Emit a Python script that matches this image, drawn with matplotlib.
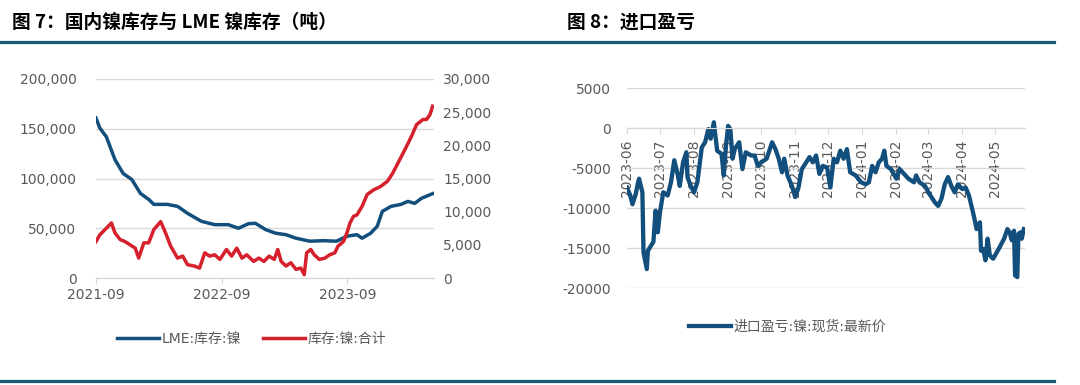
import matplotlib
matplotlib.use("Agg")
import matplotlib.pyplot as plt
import matplotlib.dates as mdates
from matplotlib.ticker import FuncFormatter, MultipleLocator
from matplotlib.lines import Line2D
import pandas as pd

plt.rcParams['font.family'] = ['DejaVu Sans', 'Noto Sans CJK SC']
plt.rcParams['axes.unicode_minus'] = False

# ---- 图7 data ----
lme_dates = ["2021-09-01", "2021-09-12", "2021-10-01", "2021-10-26", "2021-11-19", "2021-12-14",
             "2022-01-08", "2022-02-01", "2022-02-16", "2022-03-27", "2022-04-26", "2022-05-25",
             "2022-07-04", "2022-08-12", "2022-09-20", "2022-10-20", "2022-11-18", "2022-12-08",
             "2023-01-07", "2023-02-05", "2023-03-07", "2023-04-05", "2023-05-15", "2023-06-23",
             "2023-08-01", "2023-08-31", "2023-09-29", "2023-10-14", "2023-11-08", "2023-11-27",
             "2023-12-12", "2024-01-06", "2024-02-04", "2024-02-24", "2024-03-15", "2024-04-03",
             "2024-05-06"]
lme_stock = [160800, 150700, 142000, 119000, 105000, 99000,
             85000, 79000, 74000, 74000, 72000, 65000,
             57000, 53600, 53600, 50000, 54600, 55000,
             48600, 45000, 43500, 40000, 37000, 37500,
             37000, 42000, 43500, 40000, 45000, 52000,
             67000, 72000, 74000, 77000, 75000, 80000,
             84800]

cn_dates = ["2021-09-01", "2021-09-12", "2021-10-01", "2021-10-16", "2021-10-26", "2021-11-10",
            "2021-11-24", "2021-12-09", "2021-12-24", "2022-01-03", "2022-01-18", "2022-02-01",
            "2022-02-16", "2022-03-08", "2022-03-22", "2022-04-06", "2022-04-26", "2022-05-11",
            "2022-05-25", "2022-06-14", "2022-06-29", "2022-07-14", "2022-07-28", "2022-08-12",
            "2022-08-27", "2022-09-15", "2022-09-30", "2022-10-15", "2022-10-30", "2022-11-13",
            "2022-12-03", "2022-12-18", "2023-01-02", "2023-01-17", "2023-02-01", "2023-02-11",
            "2023-02-21", "2023-03-07", "2023-03-21", "2023-04-05", "2023-04-19", "2023-04-29",
            "2023-05-06", "2023-05-18", "2023-05-28", "2023-06-12", "2023-06-28", "2023-07-12",
            "2023-07-27", "2023-08-05", "2023-08-21", "2023-08-31", "2023-09-09", "2023-09-19",
            "2023-09-29", "2023-10-14", "2023-10-29", "2023-11-17", "2023-12-07", "2023-12-27",
            "2024-01-11", "2024-01-31", "2024-02-15", "2024-03-06", "2024-03-20", "2024-04-08",
            "2024-04-18", "2024-04-28", "2024-05-06"]
cn_stock = [5500, 6500, 7500, 8300, 6800, 5800,
            5500, 5000, 4500, 3000, 5300, 5300,
            7300, 8500, 6800, 4800, 3000, 3300,
            2000, 1800, 1500, 3800, 3300, 3500,
            2800, 4300, 3300, 4500, 3000, 3500,
            2500, 3000, 2500, 3300, 2800, 4300,
            2500, 1800, 2300, 1300, 1500, 500,
            3800, 4300, 3500, 2800, 3000, 3500,
            3800, 4800, 5500, 6800, 8300, 9300,
            9500, 10800, 12600, 13300, 13800, 14600,
            15800, 17800, 19300, 21400, 23100, 23900,
            23900, 24600, 25900]

# ---- 图8 data ----
pl_dates = ["2023-06-01", "2023-06-04", "2023-06-06", "2023-06-09", "2023-06-11", "2023-06-12",
            "2023-06-15", "2023-06-16", "2023-06-19", "2023-06-20", "2023-06-25", "2023-06-27",
            "2023-06-29", "2023-07-01", "2023-07-04", "2023-07-08", "2023-07-11", "2023-07-14",
            "2023-07-17", "2023-07-19", "2023-07-22", "2023-07-25", "2023-07-26", "2023-07-29",
            "2023-08-01", "2023-08-04", "2023-08-08", "2023-08-11", "2023-08-14", "2023-08-16",
            "2023-08-19", "2023-08-22", "2023-08-26", "2023-08-28", "2023-08-30", "2023-09-01",
            "2023-09-03", "2023-09-05", "2023-09-07", "2023-09-11", "2023-09-14", "2023-09-17",
            "2023-09-22", "2023-09-25", "2023-09-28", "2023-10-01", "2023-10-06", "2023-10-11",
            "2023-10-14", "2023-10-17", "2023-10-20", "2023-10-22", "2023-10-25", "2023-10-29",
            "2023-11-01", "2023-11-04", "2023-11-07", "2023-11-11", "2023-11-14", "2023-11-17",
            "2023-11-20", "2023-11-23", "2023-11-26", "2023-11-30", "2023-12-03", "2023-12-06",
            "2023-12-09", "2023-12-12", "2023-12-15", "2023-12-18", "2023-12-21", "2023-12-26",
            "2023-12-31", "2024-01-04", "2024-01-07", "2024-01-10", "2024-01-13", "2024-01-16",
            "2024-01-19", "2024-01-21", "2024-01-23", "2024-01-27", "2024-02-01", "2024-02-04",
            "2024-02-08", "2024-02-12", "2024-02-17", "2024-02-19", "2024-02-22", "2024-02-27",
            "2024-03-02", "2024-03-07", "2024-03-10", "2024-03-13", "2024-03-16", "2024-03-19",
            "2024-03-22", "2024-03-25", "2024-03-28", "2024-04-01", "2024-04-04", "2024-04-07",
            "2024-04-10", "2024-04-12", "2024-04-14", "2024-04-17", "2024-04-18", "2024-04-20",
            "2024-04-22", "2024-04-24", "2024-04-26", "2024-04-29", "2024-05-04", "2024-05-09",
            "2024-05-12", "2024-05-14", "2024-05-16", "2024-05-18", "2024-05-19", "2024-05-21",
            "2024-05-22", "2024-05-24", "2024-05-25", "2024-05-27"]
pl_value = [-7400, -8400, -9500, -8200, -6800, -6300,
            -8000, -15500, -17600, -15300, -14200, -10300,
            -13000, -10500, -8000, -8400, -6750, -4000,
            -5700, -7200, -4250, -3000, -6100, -7200,
            -8000, -6750, -2400, -1750, -100, -1300,
            750, -2800, -3200, -5900, -2200, 300,
            -100, -3800, -2600, -1750, -5100, -3000,
            -3400, -3400, -4700, -4250, -3800, -1750,
            -2600, -3800, -5500, -3800, -5900, -7200,
            -8600, -7400, -5100, -4250, -3600, -4250,
            -3400, -5700, -4700, -4900, -7400, -3800,
            -4250, -2800, -3800, -2600, -5500, -5900,
            -6750, -7000, -6750, -4700, -5500, -4250,
            -3800, -2800, -4700, -5100, -6300, -5100,
            -5700, -6300, -6750, -5900, -6750, -7200,
            -8200, -9250, -9700, -8800, -7000, -6100,
            -7200, -8000, -7000, -7600, -7400, -8400,
            -10100, -11300, -12600, -11750, -15300, -15100,
            -16500, -13800, -15900, -16300, -15100, -13800,
            -12600, -13000, -14000, -12800, -18400, -18600,
            -13200, -13000, -13800, -12600]

blue = '#134f7c'
red = '#d6202c'
grid_c = '#d9d9d9'
txt_c = '#595959'
rule_c = '#1d5a7a'
cjk = ['Noto Sans CJK SC', 'DejaVu Sans']

fig = plt.figure(figsize=(10.8, 3.85), dpi=100)

# titles and rules
fig.text(12 / 1080, 1 - 22 / 385, "图 7：国内镍库存与 LME 镍库存（吨）", fontsize=13.5,
         fontweight='bold', family=cjk, va='center', ha='left', color='black')
fig.text(567 / 1080, 1 - 22 / 385, "图 8：进口盈亏", fontsize=13.5,
         fontweight='bold', family=cjk, va='center', ha='left', color='black')
fig.add_artist(Line2D([0, 1054 / 1080], [1 - 41.5 / 385] * 2, color=rule_c, lw=2.3))
fig.add_artist(Line2D([0, 1054 / 1080], [1 - 381 / 385] * 2, color=rule_c, lw=2.3))

# ---- left chart ----
ax1 = fig.add_axes([96 / 1080, 1 - 278 / 385, (434 - 96) / 1080, (278 - 79) / 385])
ax2 = ax1.twinx()
l1, = ax1.plot(pd.to_datetime(lme_dates), lme_stock, color=blue, lw=2.5, label='LME:库存:镍')
l2, = ax2.plot(pd.to_datetime(cn_dates), cn_stock, color=red, lw=2.5, label='库存:镍:合计')
ax1.set_ylim(0, 200000)
ax2.set_ylim(0, 30000)
ax1.yaxis.set_major_locator(MultipleLocator(50000))
ax2.yaxis.set_major_locator(MultipleLocator(5000))
fmt = FuncFormatter(lambda v, p: f"{int(v):,}")
ax1.yaxis.set_major_formatter(fmt)
ax2.yaxis.set_major_formatter(fmt)
ax1.set_xlim(pd.Timestamp("2021-09-01"), pd.Timestamp("2024-05-10"))
ax1.set_xticks(pd.to_datetime(["2021-09-01", "2022-09-01", "2023-09-01"]))
ax1.xaxis.set_major_formatter(mdates.DateFormatter('%Y-%m'))
ax1.grid(axis='y', color=grid_c, lw=1)
ax1.set_axisbelow(True)
for a in (ax1, ax2):
    for s in ('top', 'left', 'right'):
        a.spines[s].set_visible(False)
    a.spines['bottom'].set_color(grid_c)
    a.tick_params(labelsize=10, colors=txt_c, length=0)
ax1.tick_params(axis='x', length=4, color=grid_c, pad=3)
ax1.tick_params(axis='y', pad=14)
ax2.tick_params(axis='y', pad=6.5)

fig.legend(handles=[l1, l2], loc='center', bbox_to_anchor=(252 / 1080, 1 - 339 / 385),
           ncol=2, frameon=False, fontsize=10, handlelength=3, handletextpad=0.2,
           columnspacing=1.6, labelcolor=txt_c)

# ---- right chart ----
ax3 = fig.add_axes([627 / 1080, 1 - 288.3 / 385, (1025 - 627) / 1080, 200 / 385])
l3, = ax3.plot(pd.to_datetime(pl_dates), pl_value, color=blue, lw=3.1, label='进口盈亏:镍:现货:最新价')
ax3.set_ylim(-20000, 5000)
ax3.yaxis.set_major_locator(MultipleLocator(5000))
ax3.yaxis.set_major_formatter(FuncFormatter(lambda v, p: f"{int(v)}"))
ax3.set_xlim(pd.Timestamp("2023-06-01"), pd.Timestamp("2024-05-28"))
ax3.xaxis.set_major_locator(mdates.MonthLocator())
ax3.xaxis.set_major_formatter(mdates.DateFormatter('%Y-%m'))
ax3.grid(axis='y', color=grid_c, lw=1)
ax3.set_axisbelow(True)
for s in ('top', 'left', 'right'):
    ax3.spines[s].set_visible(False)
ax3.spines['bottom'].set_position(('data', 0))
ax3.spines['bottom'].set_color(grid_c)
ax3.tick_params(labelsize=10, colors=txt_c)
ax3.tick_params(axis='y', length=0, pad=11.5)
ax3.tick_params(axis='x', length=4, color=grid_c, pad=4)
for lbl in ax3.get_xticklabels():
    lbl.set_rotation(90)
    lbl.set_va('top')
    lbl.set_ha('center')

fig.legend(handles=[l3], loc='center', bbox_to_anchor=(788 / 1080, 1 - 327 / 385),
           frameon=False, fontsize=10, handlelength=3, handletextpad=0.2, labelcolor=txt_c)

fig.savefig("out.png", dpi=100)
